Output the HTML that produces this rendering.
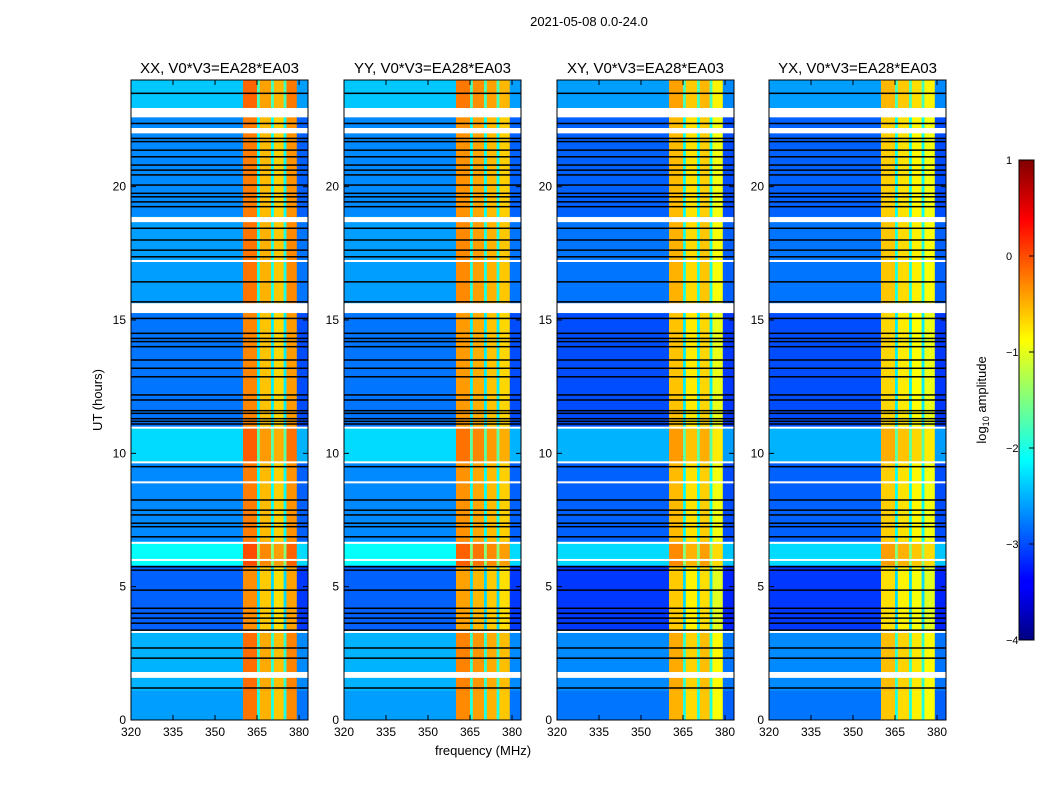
<!DOCTYPE html>
<html><head><meta charset="utf-8"><style>
body{margin:0;background:#fff;}
svg{display:block;font-family:"Liberation Sans","DejaVu Sans",sans-serif;}
</style></head><body>
<svg id="fig" width="1050" height="800" viewBox="0 0 1050 800">
<text x="589" y="26" font-size="13" text-anchor="middle">2021-05-08 0.0-24.0</text>
<text x="483" y="755" font-size="13" text-anchor="middle">frequency (MHz)</text>
<text transform="translate(102,400) rotate(-90)" font-size="13" text-anchor="middle">UT (hours)</text>
<g id="panels"></g>
<defs><linearGradient id="jet" x1="0" y1="1" x2="0" y2="0">
<stop offset="0" stop-color="#000080"/><stop offset="0.11" stop-color="#0000ff"/><stop offset="0.125" stop-color="#0000ff"/>
<stop offset="0.375" stop-color="#00ffff"/><stop offset="0.625" stop-color="#ffff00"/><stop offset="0.875" stop-color="#ff0000"/><stop offset="1" stop-color="#800000"/>
</linearGradient></defs>
<rect x="1019" y="160" width="15" height="480" fill="url(#jet)" stroke="#000" stroke-width="1"/>
<g id="cbticks" font-size="11"></g>
<text transform="translate(986,400) rotate(-90)" font-size="13" text-anchor="middle">log<tspan font-size="9" dy="3">10</tspan><tspan dy="-3"> amplitude</tspan></text>
</svg>
<script>
const panelTitles=["XX, V0*V3=EA28*EA03","YY, V0*V3=EA28*EA03","XY, V0*V3=EA28*EA03","YX, V0*V3=EA28*EA03"];
const freqEdges=[320,360,365,366,370,371,374.5,375.5,379.2,383];
const xxLevels=[-2.6,-0.2,-2.0,-0.5,-2.0,-0.6,-2.0,-0.3,-2.8];
const yyLevels=[-2.6,-0.3,-2.0,-0.4,-2.0,-0.5,-2.0,-0.6,-2.8];
const xyLevels=[-2.8,-0.5,-2.0,-0.7,-2.0,-0.6,-2.0,-0.9,-2.9];
const yxLevels=[-2.8,-0.6,-2.0,-0.7,-2.0,-0.8,-2.0,-0.9,-2.9];
const timeEdges=[0,1.1,3.4,5.8,6.7,9.7,11,15.6,18.9,22.9,24];
const timeOffsets=[0,0.1,-0.3,0.5,-0.1,0.3,-0.2,0,-0.1,0.2];
const whiteGaps=[[22.6,22.95],[22.0,22.2],[18.67,18.86],[17.2,17.25],[15.26,15.63],[10.93,11.0],[9.64,9.7],[8.88,8.95],[6.62,6.68],[5.98,6.04],[3.28,3.34],[1.58,1.8]];
const blackLines=[23.5,22.37,21.81,21.69,21.37,21.12,20.81,20.62,20.44,20.06,19.75,19.62,19.43,19.25,18.44,18.0,17.62,17.37,16.43,15.68,15.06,14.5,14.31,14.19,14.0,13.5,13.19,12.87,12.19,12.0,11.6,11.5,11.3,11.2,11.1,9.5,8.25,7.87,7.69,7.38,7.25,6.87,5.75,5.62,4.87,4.19,4.0,3.82,3.63,3.37,2.7,2.32,1.2];
const xTicks=[320,335,350,365,380];
const yTicks=[0,5,10,15,20];
const cbTicks=[1,0,-1,-2,-3,-4];
const cbLabels=["1","0","\u22121","\u22122","\u22123","\u22124"];
const panelLevels=[xxLevels,yyLevels,xyLevels,yxLevels];
const lefts=[131,344,557,769], W=177, TOP=80, H=640, FMIN=320, FMAX=383.2, TMIN=0, TMAX=24;
const NS="http://www.w3.org/2000/svg";
function jet(v){let t=Math.max(0,Math.min(1,(v+4)/5));
 const c=x=>Math.max(0,Math.min(1,x));
 const r=c(Math.min(4*t-1.5,-4*t+4.5)),g=c(Math.min(4*t-0.5,-4*t+3.5)),b=c(Math.min(4*t+0.5,-4*t+2.5));
 return `rgb(${Math.round(r*255)},${Math.round(g*255)},${Math.round(b*255)})`;}
function mk(tag,attrs,parent){const e=document.createElementNS(NS,tag);for(const k in attrs)e.setAttribute(k,attrs[k]);parent.appendChild(e);return e;}
const root=document.getElementById('panels');
panelLevels.forEach((lv,p)=>{
 const L=lefts[p];
 const xs=f=>L+(f-FMIN)/(FMAX-FMIN)*W;
 const ys=h=>TOP+H-(h-TMIN)/(TMAX-TMIN)*H;
 const g=mk('g',{},root);
 
 
 for(let ti=0;ti<timeOffsets.length;ti++){
  for(let fi=0;fi<lv.length;fi++){
   const off=(lv[fi]<-1.5)?timeOffsets[ti]:timeOffsets[ti]*0.4;
   const x0=xs(freqEdges[fi]),x1=xs(freqEdges[fi+1]),y0=ys(timeEdges[ti+1]),y1=ys(timeEdges[ti]);
   const r=mk('rect',{x:x0,y:y0,width:x1-x0+0.3,height:y1-y0+0.3,fill:jet(lv[fi]+off)},g);
   
   
  }
 }
 whiteGaps.forEach(w=>{const r=mk('rect',{x:L,y:ys(w[1]),width:W,height:Math.max(2,ys(w[0])-ys(w[1])),fill:'#fff'},g);
  
  });
 blackLines.forEach(h=>{const r=mk('rect',{x:L,y:ys(h)-0.75,width:W,height:1.5,fill:'#000'},g);
  
  });
 const fr=mk('rect',{x:L,y:TOP,width:W,height:H,fill:'none',stroke:'#000','stroke-width':1},g);
 
 
 const t=mk('text',{x:L+W/2,y:TOP-7,'font-size':15,'text-anchor':'middle'},g);t.textContent=panelTitles[p];
 
 
 xTicks.forEach((f,i)=>{const x=xs(f);
  mk('line',{x1:x,x2:x,y1:TOP+H,y2:TOP+H-5,stroke:'#000'},g);mk('line',{x1:x,x2:x,y1:TOP,y2:TOP+5,stroke:'#000'},g);
  const tx=mk('text',{x:x,y:TOP+H+16,'font-size':12,'text-anchor':'middle'},g);tx.textContent=f;
  
  });
 yTicks.forEach(h=>{const y=ys(h);
  mk('line',{x1:L,x2:L+5,y1:y,y2:y,stroke:'#000'},g);mk('line',{x1:L+W,x2:L+W-5,y1:y,y2:y,stroke:'#000'},g);
  const ty=mk('text',{x:L-5,y:y+4,'font-size':12,'text-anchor':'end'},g);ty.textContent=h;
  
  });
});
const cb=document.getElementById('cbticks');
cbTicks.forEach((v,i)=>{const y=640-(v+4)/5*480;
 mk('line',{x1:1029,x2:1034,y1:y,y2:y,stroke:'#000'},cb);
 const t=mk('text',{x:1006,y:y+4,'text-anchor':'start'},cb);t.textContent=cbLabels[i];
 
 });
</script>
</body></html>
